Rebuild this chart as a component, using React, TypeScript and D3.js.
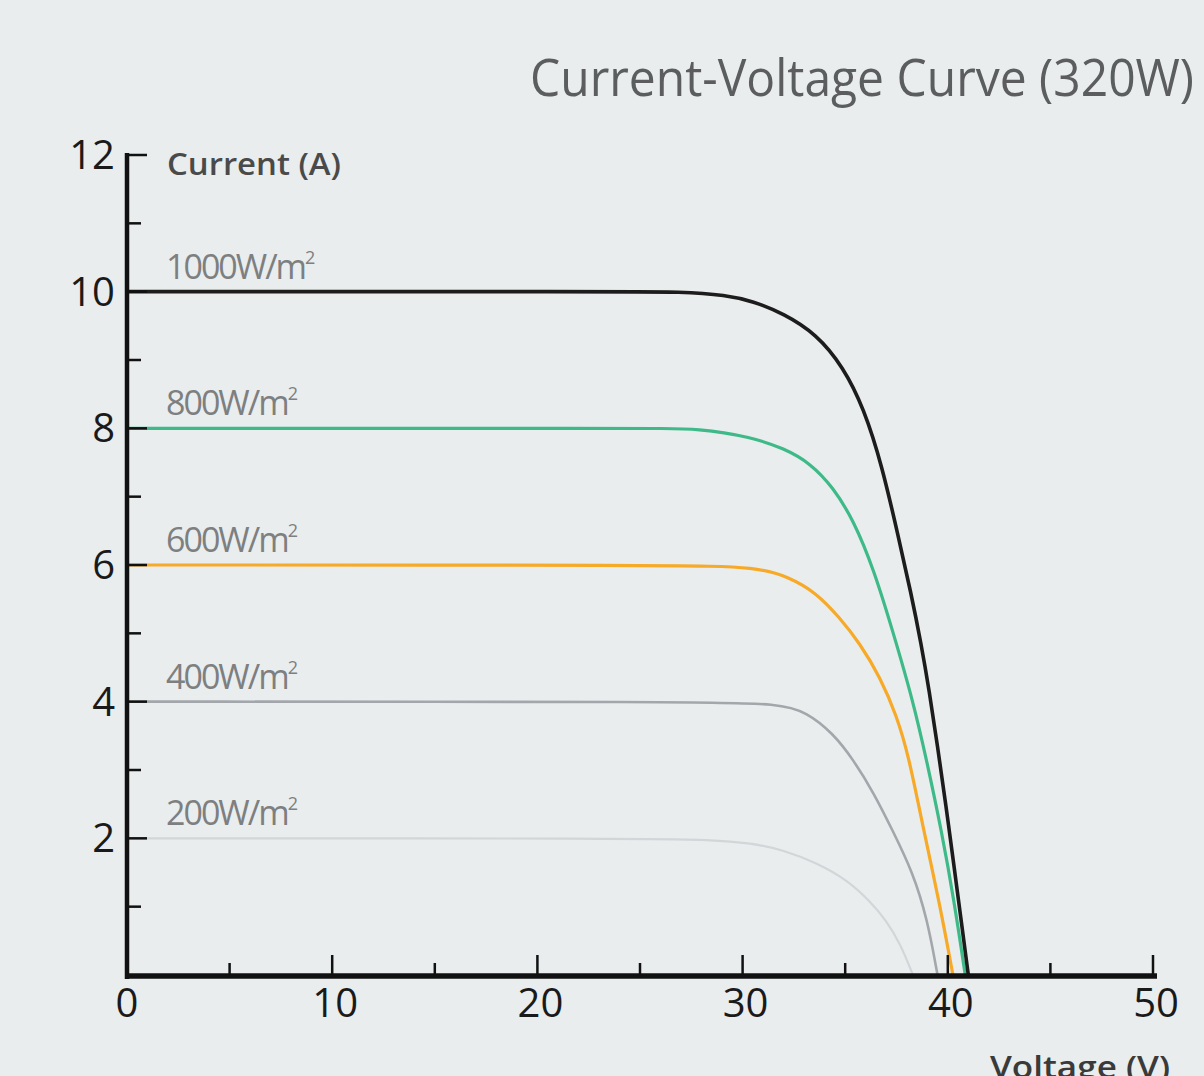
import React from "react";
import * as d3 from "d3";

const title = "Current-Voltage Curve (320W)";
const yAxisTitle = "Current (A)";
const xAxisTitle = "Voltage (V)";

const xMajorTicks = [0, 10, 20, 30, 40, 50];
const xMinorTicks = [5, 15, 25, 35, 45];
const yMajorTicks = [2, 4, 6, 8, 10, 12];
const yMinorTicks = [1, 3, 5, 7, 9, 11];

const seriesNames = ["1000W/m", "800W/m", "600W/m", "400W/m", "200W/m"];
const seriesLevels = [10, 8, 6, 4, 2];
const seriesColors = ["#1c1c1c", "#3dba88", "#f7a928", "#a3a7ab", "#d3d6d9"];
const seriesWidths = [3.6, 3.2, 3.2, 2.6, 2.2];

const curve1000: [number, number][] = [
  [0, 10], [24, 10], [27, 10], [29.2, 9.95], [30.5, 9.86], [32.0, 9.68], [33.6, 9.38],
  [34.9, 8.9], [35.9, 8.3], [36.8, 7.45], [37.6, 6.4], [38.2, 5.6], [38.7, 4.85],
  [39.1, 4.15], [39.5, 3.35], [39.9, 2.5], [40.3, 1.6], [40.65, 0.8], [41.0, 0],
];
const curve800: [number, number][] = [
  [0, 8], [25, 8], [28, 8], [30.4, 7.87], [32.0, 7.71], [33.3, 7.49], [34.4, 7.14],
  [35.4, 6.66], [36.4, 5.93], [37.3, 5.05], [38.3, 4.02], [39.0, 3.1],
  [39.7, 2.1], [40.3, 1.1], [40.85, 0],
];
const curve600: [number, number][] = [
  [0, 6], [27, 6], [30.7, 5.97], [32.3, 5.82], [33.6, 5.59], [34.7, 5.24], [35.7, 4.86],
  [36.7, 4.36], [37.5, 3.8], [38.1, 3.2], [38.8, 2.15], [39.6, 1.05], [40.25, 0],
];
const curve400: [number, number][] = [
  [0, 4], [28, 4], [31.8, 3.97], [33.1, 3.85], [34.4, 3.54], [35.4, 3.15], [36.4, 2.66],
  [37.3, 2.12], [38.3, 1.5], [39.0, 0.82], [39.5, 0],
];
const curve200: [number, number][] = [
  [0, 2], [25, 2], [28.5, 1.98], [30.4, 1.93], [32.0, 1.83], [33.6, 1.64], [35.1, 1.39],
  [36.2, 1.08], [37.0, 0.8], [37.7, 0.45], [38.3, 0],
];
const curves = [curve1000, curve800, curve600, curve400, curve200];

const W = 1204;
const H = 1076;
const FONT = "'Open Sans', 'Noto Sans', sans-serif";

export default function App() {
  const x = d3.scaleLinear().domain([0, 50]).range([127, 1153]);
  const y = d3.scaleLinear().domain([0, 12]).range([975, 155]);
  const line = d3
    .line<[number, number]>()
    .x((d) => x(d[0]))
    .y((d) => y(d[1]))
    .curve(d3.curveBasis);

  return (
    <svg
      width={W}
      height={H}
      style={{ position: "absolute", left: 0, top: 0, display: "block" }}
      xmlns="http://www.w3.org/2000/svg"
    >
      <rect x={0} y={0} width={W} height={H} fill="#e9edee" />

      <text
        x={530}
        y={96}
        fontFamily={FONT}
        fontSize={52}
        fill="#5b5d5e"
        textLength={664}
        lengthAdjust="spacingAndGlyphs"
      >
        {title}
      </text>

      <text
        x={167}
        y={175}
        fontFamily={FONT}
        fontSize={31}
        fontWeight={600}
        fill="#4a4a4a"
        textLength={174}
        lengthAdjust="spacingAndGlyphs"
      >
        {yAxisTitle}
      </text>

      <text
        x={990}
        y={1078}
        fontFamily={FONT}
        fontSize={31}
        fontWeight={600}
        fill="#3a3a3a"
        textLength={180}
        lengthAdjust="spacingAndGlyphs"
      >
        {xAxisTitle}
      </text>

      {/* series labels */}
      {seriesNames.map((name, i) => (
        <text
          key={name}
          x={166}
          y={y(seriesLevels[i]) - 13}
          fontFamily={FONT}
          fontSize={34}
          fill="#7d7f80"
          letterSpacing={-2}
        >
          {name}
          <tspan fontSize={18} dy={-15}>
            2
          </tspan>
        </text>
      ))}

      {/* curves */}
      {curves
        .map((c, i) => ({ c, i }))
        .reverse()
        .map(({ c, i }) => (
          <path
            key={i}
            d={line(c) || ""}
            fill="none"
            stroke={seriesColors[i]}
            strokeWidth={seriesWidths[i]}
            strokeLinecap="round"
          />
        ))}

      {/* y axis */}
      <line x1={x(0)} x2={x(0)} y1={y(12) - 2} y2={y(0) + 4} stroke="#111" strokeWidth={4.5} />
      {yMajorTicks.map((t) => (
        <line key={"ym" + t} x1={x(0)} x2={x(0) + 20} y1={y(t)} y2={y(t)} stroke="#111" strokeWidth={2.5} />
      ))}
      {yMinorTicks.map((t) => (
        <line key={"yn" + t} x1={x(0)} x2={x(0) + 14} y1={y(t)} y2={y(t)} stroke="#111" strokeWidth={2.5} />
      ))}
      {yMajorTicks.map((t) => (
        <text
          key={"yl" + t}
          x={x(0) - 12}
          y={y(t) + 14}
          textAnchor="end"
          fontFamily={FONT}
          fontSize={40}
          fill="#1a1a1a"
        >
          {t}
        </text>
      ))}

      {/* x axis */}
      <line x1={x(0) - 2} x2={x(50) + 4} y1={y(0) + 1} y2={y(0) + 1} stroke="#111" strokeWidth={5.5} />
      {xMajorTicks.slice(1).map((t) => (
        <line key={"xm" + t} x1={x(t)} x2={x(t)} y1={y(0)} y2={y(0) - 20} stroke="#111" strokeWidth={2.5} />
      ))}
      {xMinorTicks.map((t) => (
        <line key={"xn" + t} x1={x(t)} x2={x(t)} y1={y(0)} y2={y(0) - 12} stroke="#111" strokeWidth={2.5} />
      ))}
      {xMajorTicks.map((t) => (
        <text
          key={"xl" + t}
          x={x(t) + (t === 0 ? 0 : 3)}
          y={1017}
          textAnchor="middle"
          fontFamily={FONT}
          fontSize={40}
          fill="#1a1a1a"
        >
          {t}
        </text>
      ))}
    </svg>
  );
}
